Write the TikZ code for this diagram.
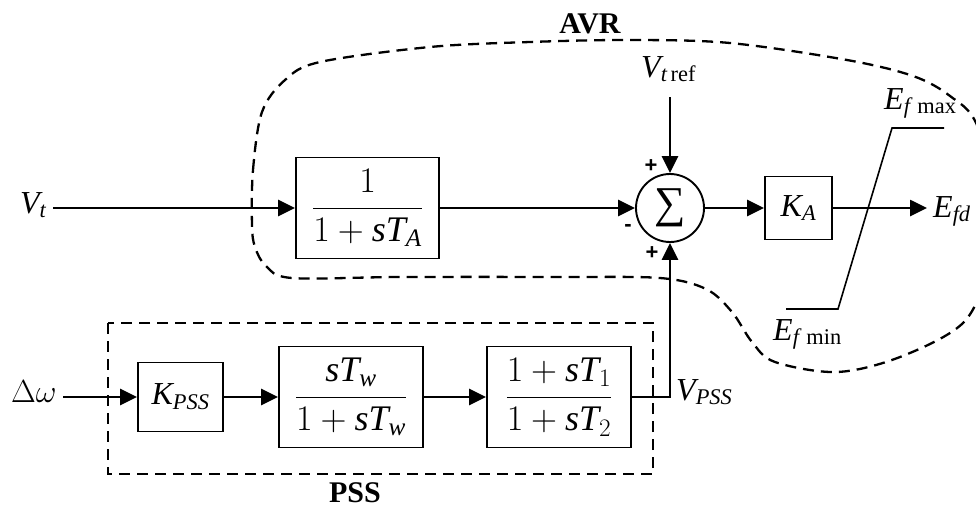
\RequirePackage{fix-cm}
\documentclass[tikz,border=0pt]{standalone}
\usepackage{fontspec}
\setmainfont{Liberation Serif}
\newfontfamily\plusfont{Liberation Sans}
\usetikzlibrary{arrows.meta}
\newcommand\mi[1]{\mathit{#1}}
\begin{document}
\begin{tikzpicture}[x=1pt,y=-1pt,
  every node/.style={font=\fontsize{32}{38}\selectfont, inner sep=0pt},
  blk/.style={draw, line width=1.9pt, inner sep=0pt},
  frac/.style={font=\fontsize{36}{42}\selectfont},
  conn/.style={line width=2.6pt, -{Triangle[length=17pt,width=16pt]}},
  bound/.style={line width=2.3pt, dash pattern=on 11pt off 7pt},
  lim/.style={line width=1.6pt},
  lbl/.style={anchor=base west},
  ttl/.style={anchor=base, font=\fontsize{30}{36}\selectfont\bfseries},
  sgn/.style={font=\plusfont\bfseries\fontsize{22}{22}\selectfont}]
\useasboundingbox (0,0) rectangle (976,509);
\clip (0,0) rectangle (976,509);
% AVR boundary
\draw[bound] plot[smooth cycle, tension=0.55] coordinates {
 (252,225) (253,170) (262,112) (285,80) (320,62) (430,47) (530,42) (630,40)
 (730,43) (847,60) (913,76) (950,96) (977,125) (1000,210) (988,270) (963,323)
 (900,357) (837,372) (775,362) (752,342) (732,312) (706,289) (660,278)
 (560,277) (400,277) (292,278) (266,266) (255,247)};
% PSS boundary
\draw[bound] (108,323) rectangle (653,474);
% blocks
\node[blk, frac, minimum width=143pt, minimum height=101pt] (ta) at (367.5,208)
  {$\displaystyle\frac{1}{1+\mi{sT}_{\mi{A}}}$};
\node[draw, circle, line width=1.9pt, minimum size=68pt] (sum) at (670,208) {};
\node[font=\fontsize{44}{48}\selectfont] (sig) at (sum.center) {∑};
\node[blk, minimum width=67pt, minimum height=63pt] (ka) at (798.5,208)
  {$\mi{K}_{\mi{A}}$};
\node[blk, minimum width=85pt, minimum height=69pt] (kpss) at (180.5,397)
  {$\mi{K}_{\mi{PSS}}$};
\node[blk, frac, minimum width=144pt, minimum height=101pt] (tw) at (351,397)
  {$\displaystyle\frac{\mi{sT}_{\mi{w}}}{1+\mi{sT}_{\mi{w}}}$};
\node[blk, frac, minimum width=144pt, minimum height=101pt] (t12) at (559,397)
  {$\displaystyle\frac{1+\mi{sT}_{1}}{1+\mi{sT}_{2}}$};
% connectors
\coordinate (vtin) at (53,208);
\coordinate (vref) at (670,97);
\coordinate (efd) at (927,208);
\coordinate (dwin) at (63,397);
\draw[conn] (vtin) -- (ta.west);
\draw[conn] (ta.east) -- (sum.west);
\draw[conn] (vref) -- (sum.north);
\draw[conn] (sum.east) -- (ka.west);
\draw[conn] (ka.east) -- (efd);
\draw[conn] (dwin) -- (kpss.west);
\draw[conn] (kpss.east) -- (tw.west);
\draw[conn] (tw.east) -- (t12.west);
\draw[conn] (t12.east) -| (sum.south);
% limiter
\coordinate (l1) at (786,309);
\coordinate (l2) at (838,309);
\coordinate (l3) at (892,128);
\coordinate (l4) at (944,128);
\draw[lim] (l1) -- (l2) -- (l3) -- (l4);
% signs
\node[sgn] (p1) at (651,166) {+};
\node[sgn] (m1) at (628,228) {-};
\node[sgn] (p2) at (652,253) {+};
% labels
\node[lbl] (vt) at (20,213) {$\mi{V}_{\mi{t}}$};
\node[lbl] (vtr) at (641,77) {$\mi{V}_{\mi{t}\,\mathrm{ref}}$};
\node[lbl] (efdl) at (933,217) {$\mi{E}_{\mi{fd}}$};
\node[lbl] (emax) at (884,109) {$\mi{E}_{\mi{f}\,\max}$};
\node[lbl] (emin) at (773,340) {$\mi{E}_{\mi{f}\,\min}$};
\node[lbl] (dw) at (11,402) {$\Delta\omega$};
\node[lbl] (vpss) at (676,400) {$\mi{V}_{\mi{PSS}}$};
\node[ttl] (avr) at (590,33) {AVR};
\node[ttl] (pss) at (355,502) {PSS};
\end{tikzpicture}
\end{document}
